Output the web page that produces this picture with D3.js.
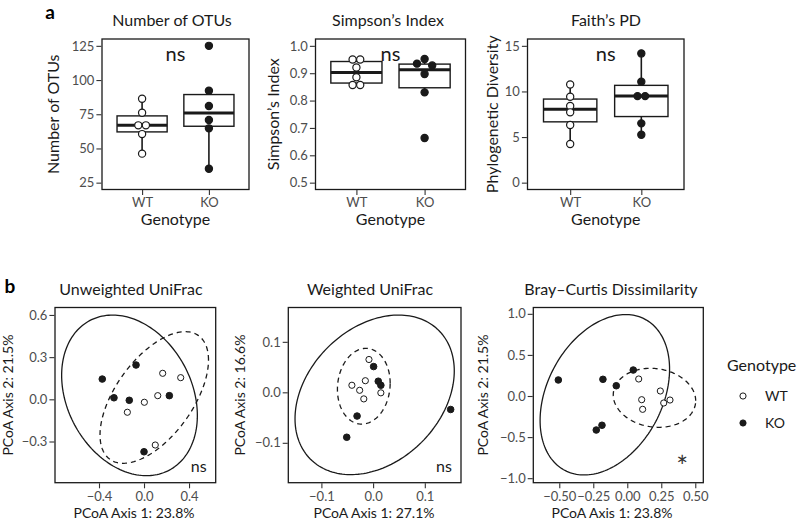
<!DOCTYPE html>
<html lang="en">
<head>
<meta charset="utf-8">
<script src="https://d3js.org/d3.v7.min.js"></script>
<style>
    body { margin: 0; background: #fff; }
    svg text { font-family: Lato, "Open Sans", sans-serif; }
</style>
</head>
<body>
<div id="chart"></div>
<script>
    // ---------- data ----------
    var genotypes = ["WT", "KO"];

    // alpha diversity, one value per mouse
    var otuWT = [86.3, 76.1, 66.9, 66.9, 60.5, 46.2];
    var otuKO = [125, 92.2, 81.0, 70.8, 64.7, 35.2];
    var simpsonWT = [0.950, 0.950, 0.921, 0.885, 0.857, 0.857];
    var simpsonKO = [0.952, 0.935, 0.928, 0.897, 0.830, 0.663];
    var faithWT = [10.77, 9.42, 8.40, 7.71, 6.32, 4.24];
    var faithKO = [14.17, 11.06, 9.49, 9.49, 6.50, 5.26];

    var otuTicks = [25, 50, 75, 100, 125];
    var simpsonTicks = [0.5, 0.6, 0.7, 0.8, 0.9, 1.0];
    var faithTicks = [0, 5, 10, 15];

    // PCoA coordinates, [axis 1, axis 2]
    var unwWT = [[0.166, 0.185], [0.326, 0.154], [0.122, 0.026], [0.003, -0.021], [-0.148, -0.092], [0.100, -0.325]];
    var unwKO = [[-0.371, 0.144], [-0.071, 0.244], [-0.267, 0.011], [-0.131, -0.007], [0.225, 0.026], [0.000, -0.373]];
    var wWT = [[-0.008, 0.065], [-0.015, 0.023], [-0.041, 0.014], [-0.026, 0.004], [-0.018, -0.013], [0.015, -0.001]];
    var wKO = [[0.001, 0.051], [0.010, 0.022], [0.015, 0.014], [-0.031, -0.047], [-0.051, -0.089], [0.150, -0.034]];
    var bcWT = [[0.084, 0.207], [0.243, 0.061], [0.106, -0.045], [0.113, -0.162], [0.268, -0.085], [0.314, -0.049]];
    var bcKO = [[-0.507, 0.195], [-0.179, 0.203], [-0.081, 0.125], [0.044, 0.316], [-0.228, -0.414], [-0.186, -0.356]];

    // 95% ellipses: [centre 1, centre 2, half-width 1, half-height 2, correlation]
    var unwEllWT = [0.091, 0.013, 0.482, 0.468, 0.57];
    var unwEllKO = [-0.129, 0.028, 0.603, 0.571, -0.25];
    var wEllWT = [-0.018, 0.012, 0.051, 0.075, 0.08];
    var wEllKO = [0.003, -0.005, 0.154, 0.158, 0.30];
    var bcEllWT = [0.200, -0.022, 0.303, 0.359, -0.10];
    var bcEllKO = [-0.165, 0.015, 0.476, 0.976, 0.32];

    var unwXTicks = [-0.4, 0, 0.4], unwYTicks = [-0.3, 0, 0.3, 0.6];
    var wXTicks = [-0.1, 0, 0.1], wYTicks = [-0.1, 0, 0.1];
    var bcXTicks = [-0.5, -0.25, 0, 0.25, 0.5], bcYTicks = [-1, -0.5, 0, 0.5, 1];

    // ---------- layout ----------
    var width = 800, height = 521;
    var tickGrey = "#4d4d4d";

    var svg = d3.select("#chart").append("svg")
        .attr("width", width)
        .attr("height", height);

    var defs = svg.append("defs");

    // panel letters
    svg.append("text").attr("x", 50).attr("y", 19).attr("text-anchor", "middle")
        .attr("font-size", 19).attr("font-weight", "bold").text("a");
    svg.append("text").attr("x", 10).attr("y", 293).attr("text-anchor", "middle")
        .attr("font-size", 19).attr("font-weight", "bold").text("b");

    function styleAxis(g) {
        g.select(".domain").remove();
        g.selectAll(".tick line").attr("stroke", "#333").attr("stroke-width", 1.1);
        g.selectAll(".tick text").attr("fill", tickGrey).attr("font-size", 13)
            .attr("font-family", "Lato, 'Open Sans', sans-serif");
    }

    // spread points with (nearly) equal values sideways, like a centred dot plot
    function dotOffsets(values, y, d) {
        var idx = values.map((v, i) => i).sort((a, b) => values[b] - values[a]);
        var off = values.map(() => 0);
        var groups = [], cur = [idx[0]];
        for (var k = 1; k < idx.length; k++) {
            if (Math.abs(y(values[idx[k]]) - y(values[idx[k - 1]])) < 5.5) cur.push(idx[k]);
            else { groups.push(cur); cur = [idx[k]]; }
        }
        groups.push(cur);
        groups.forEach(g => {
            var n = g.length;
            g.forEach((j, i) => {
                var slot;
                if (n % 2) slot = i === 0 ? 0 : (i % 2 ? -1 : 1) * Math.ceil(i / 2);
                else slot = (i % 2 ? 1 : -1) * (Math.floor(i / 2) + 0.5);
                off[j] = slot * d;
            });
        });
        return off;
    }

    // ---------- panel a: box plots ----------
    var alphaPanels = [
        { title: "Number of OTUs", ytitle: "Number of OTUs", wt: otuWT, ko: otuKO, ticks: otuTicks,
          domain: [20, 130], fmt: d3.format("d"), x0: 102, x1: 249, ytx: 53, titleX: 172 },
        { title: "Simpson\u2019s Index", ytitle: "Simpson\u2019s Index", wt: simpsonWT, ko: simpsonKO, ticks: simpsonTicks,
          domain: [0.475, 1.025], fmt: d3.format(".1f"), x0: 315.5, x1: 465.5, ytx: 273, titleX: 388 },
        { title: "Faith\u2019s PD", ytitle: "Phylogenetic Diversity", wt: faithWT, ko: faithKO, ticks: faithTicks,
          domain: [-0.75, 15.75], fmt: d3.format("d"), x0: 527.5, x1: 684, ytx: 492, titleX: 606 }
    ];
    var aTop = 39, aBottom = 189.5;

    alphaPanels.forEach(p => {
        var g = svg.append("g");
        var x = d3.scalePoint().domain(genotypes).range([p.x0, p.x1]).padding(0.6);
        var y = d3.scaleLinear().domain(p.domain).range([aBottom, aTop]);
        var boxW = x.step() * 0.75;

        g.append("rect").attr("x", p.x0).attr("y", aTop)
            .attr("width", p.x1 - p.x0).attr("height", aBottom - aTop)
            .attr("fill", "none").attr("stroke", "#1a1a1a").attr("stroke-width", 1.3);

        g.append("g").attr("transform", `translate(${p.x0 - 0.6},0)`)
            .call(d3.axisLeft(y).tickValues(p.ticks).tickFormat(p.fmt).tickSize(5).tickPadding(2))
            .call(styleAxis);
        g.append("g").attr("transform", `translate(0,${aBottom + 0.6})`)
            .call(d3.axisBottom(x).tickSize(5).tickPadding(3))
            .call(styleAxis);

        [["WT", p.wt], ["KO", p.ko]].forEach(([name, vals]) => {
            var s = vals.slice().sort(d3.ascending);
            var q1 = d3.quantile(s, 0.25), med = d3.quantile(s, 0.5), q3 = d3.quantile(s, 0.75);
            var iqr = q3 - q1;
            var lo = d3.min(s.filter(v => v >= q1 - 1.5 * iqr));
            var hi = d3.max(s.filter(v => v <= q3 + 1.5 * iqr));
            var cx = x(name);

            g.append("line").attr("x1", cx).attr("x2", cx).attr("y1", y(q3)).attr("y2", y(hi))
                .attr("stroke", "#1a1a1a").attr("stroke-width", 1.6);
            g.append("line").attr("x1", cx).attr("x2", cx).attr("y1", y(q1)).attr("y2", y(lo))
                .attr("stroke", "#1a1a1a").attr("stroke-width", 1.6);
            g.append("rect").attr("x", cx - boxW / 2).attr("y", y(q3))
                .attr("width", boxW).attr("height", y(q1) - y(q3))
                .attr("fill", "#fff").attr("stroke", "#1a1a1a").attr("stroke-width", 1.4);
            g.append("line").attr("x1", cx - boxW / 2).attr("x2", cx + boxW / 2)
                .attr("y1", y(med)).attr("y2", y(med))
                .attr("stroke", "#1a1a1a").attr("stroke-width", 3);

            var off = dotOffsets(vals, y, 7.6);
            g.selectAll(null).data(vals).enter().append("circle")
                .attr("cx", (d, i) => cx + off[i])
                .attr("cy", d => y(d))
                .attr("r", 3.6)
                .attr("fill", name === "WT" ? "#fff" : "#1a1a1a")
                .attr("stroke", "#1a1a1a").attr("stroke-width", 1.2);
        });

        g.append("text").attr("x", (p.x0 + p.x1) / 2).attr("y", 61).attr("text-anchor", "middle")
            .attr("font-size", 20).attr("fill", "#1a1a1a").text("ns");
        g.append("text").attr("x", p.titleX).attr("y", 26).attr("text-anchor", "middle")
            .attr("font-size", 16).attr("fill", "#1a1a1a").text(p.title);
        g.append("text").attr("x", (p.x0 + p.x1) / 2).attr("y", 225).attr("text-anchor", "middle")
            .attr("font-size", 16).attr("fill", "#1a1a1a").text("Genotype");
        g.append("text").attr("transform", `translate(${p.ytx},${(aTop + aBottom) / 2}) rotate(-90)`)
            .attr("dy", "0.35em").attr("text-anchor", "middle")
            .attr("font-size", 16).attr("fill", "#1a1a1a").text(p.ytitle);
    });

    // ---------- panel b: PCoA ordinations ----------
    var pcoaPanels = [
        { title: "Unweighted UniFrac", xtitle: "PCoA Axis 1: 23.8%", ytitle: "PCoA Axis 2: 21.5%",
          wt: unwWT, ko: unwKO, ellWT: unwEllWT, ellKO: unwEllKO, xTicks: unwXTicks, yTicks: unwYTicks,
          xDomain: [-0.791, 0.637], yDomain: [-0.593, 0.653], xfmt: ".1f", yfmt: ".1f",
          x0: 55, x1: 215.7, ytx: 8, titleX: 131, xtitleX: 134, note: "ns" },
        { title: "Weighted UniFrac", xtitle: "PCoA Axis 1: 27.1%", ytitle: "PCoA Axis 2: 16.6%",
          wt: wWT, ko: wKO, ellWT: wEllWT, ellKO: wEllKO, xTicks: wXTicks, yTicks: wYTicks,
          xDomain: [-0.164, 0.170], yDomain: [-0.179, 0.168], xfmt: ".1f", yfmt: ".1f",
          x0: 288.3, x1: 461, ytx: 240, titleX: 370, xtitleX: 374, note: "ns" },
        { title: "Bray\u2013Curtis Dissimilarity", xtitle: "PCoA Axis 1: 23.8%", ytitle: "PCoA Axis 2: 21.5%",
          wt: bcWT, ko: bcKO, ellWT: bcEllWT, ellKO: bcEllKO, xTicks: bcXTicks, yTicks: bcYTicks,
          xDomain: [-0.691, 0.559], yDomain: [-1.055, 1.077], xfmt: ".2f", yfmt: ".1f",
          x0: 533.3, x1: 703.3, ytx: 483, titleX: 611, xtitleX: 612, note: "*" }
    ];
    var bTop = 307.5, bBottom = 482.7;

    pcoaPanels.forEach((p, pi) => {
        var g = svg.append("g");
        var x = d3.scaleLinear().domain(p.xDomain).range([p.x0, p.x1]);
        var y = d3.scaleLinear().domain(p.yDomain).range([bBottom, bTop]);

        defs.append("clipPath").attr("id", "clip" + pi).append("rect")
            .attr("x", p.x0).attr("y", bTop).attr("width", p.x1 - p.x0).attr("height", bBottom - bTop);

        g.append("g").attr("transform", `translate(${p.x0 - 0.6},0)`)
            .call(d3.axisLeft(y).tickValues(p.yTicks).tickFormat(d3.format(p.yfmt)).tickSize(5).tickPadding(2))
            .call(styleAxis);
        g.append("g").attr("transform", `translate(0,${bBottom + 0.6})`)
            .call(d3.axisBottom(x).tickValues(p.xTicks).tickFormat(d3.format(p.xfmt)).tickSize(5).tickPadding(3))
            .call(styleAxis);

        var line = d3.line().x(d => x(d[0])).y(d => y(d[1])).curve(d3.curveLinearClosed);
        var ellipsePts = e => d3.range(0, 2 * Math.PI, Math.PI / 90).map(t => [
            e[0] + e[2] * Math.cos(t),
            e[1] + e[3] * (e[4] * Math.cos(t) + Math.sqrt(1 - e[4] * e[4]) * Math.sin(t))
        ]);
        var ell = g.append("g").attr("clip-path", `url(#clip${pi})`).attr("fill", "none")
            .attr("stroke", "#1a1a1a").attr("stroke-width", 1.3);
        ell.append("path").attr("d", line(ellipsePts(p.ellKO)));
        ell.append("path").attr("d", line(ellipsePts(p.ellWT))).attr("stroke-dasharray", "5,4");

        g.selectAll(null).data(p.wt).enter().append("circle")
            .attr("cx", d => x(d[0])).attr("cy", d => y(d[1])).attr("r", 3.1)
            .attr("fill", "#fff").attr("stroke", "#1a1a1a").attr("stroke-width", 1);
        g.selectAll(null).data(p.ko).enter().append("circle")
            .attr("cx", d => x(d[0])).attr("cy", d => y(d[1])).attr("r", 3.3)
            .attr("fill", "#1a1a1a").attr("stroke", "#1a1a1a").attr("stroke-width", 1);

        g.append("rect").attr("x", p.x0).attr("y", bTop)
            .attr("width", p.x1 - p.x0).attr("height", bBottom - bTop)
            .attr("fill", "none").attr("stroke", "#1a1a1a").attr("stroke-width", 1.3);

        if (p.note === "ns") {
            g.append("text").attr("x", p.x1 - 17).attr("y", 472).attr("text-anchor", "middle")
                .attr("font-size", 16).attr("fill", "#1a1a1a").text("ns");
        } else {
            g.append("text").attr("x", p.x1 - 21).attr("y", 477).attr("text-anchor", "middle")
                .attr("font-family", "'DejaVu Sans', sans-serif")
                .attr("font-size", 28).attr("fill", "#333").text(p.note);
        }

        g.append("text").attr("x", p.titleX).attr("y", 295).attr("text-anchor", "middle")
            .attr("font-size", 16).attr("fill", "#1a1a1a").text(p.title);
        g.append("text").attr("x", p.xtitleX).attr("y", 518).attr("text-anchor", "middle")
            .attr("font-size", 14).attr("fill", "#1a1a1a").text(p.xtitle);
        g.append("text").attr("transform", `translate(${p.ytx},${(bTop + bBottom) / 2}) rotate(-90)`)
            .attr("dy", "0.35em").attr("text-anchor", "middle")
            .attr("font-size", 14).attr("fill", "#1a1a1a").text(p.ytitle);
    });

    // ---------- legend ----------
    var legend = svg.append("g");
    legend.append("text").attr("x", 727).attr("y", 371)
        .attr("font-size", 16).attr("fill", "#1a1a1a").text("Genotype");
    genotypes.forEach((name, i) => {
        var ly = 396 + i * 27;
        legend.append("circle").attr("cx", 743).attr("cy", ly).attr("r", 3.1)
            .attr("fill", name === "WT" ? "#fff" : "#1a1a1a")
            .attr("stroke", "#1a1a1a").attr("stroke-width", 1);
        legend.append("text").attr("x", 765).attr("y", ly).attr("dy", "0.35em")
            .attr("font-size", 14).attr("fill", "#1a1a1a").text(name);
    });
</script>
</body>
</html>
